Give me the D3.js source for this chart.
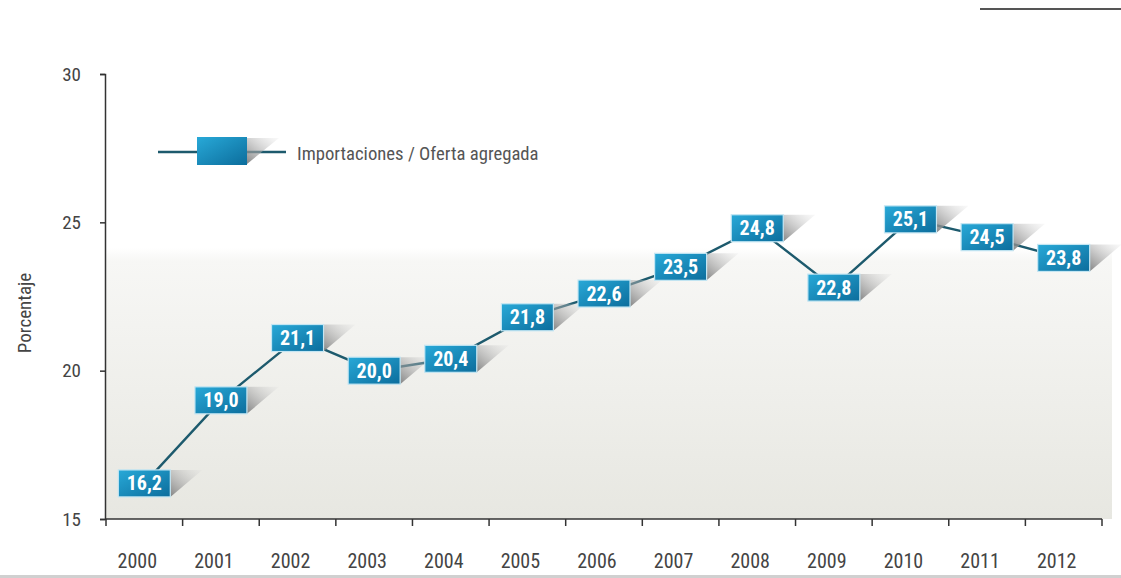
<!DOCTYPE html>
<html><head><meta charset="utf-8">
<script src="https://cdn.jsdelivr.net/npm/d3@7"></script>
<style>body{margin:0;background:#fff}svg{display:block}</style>
</head><body>
<svg id="c" width="1121" height="578"></svg>
<script>
const years = ["2000","2001","2002","2003","2004","2005","2006","2007","2008","2009","2010","2011","2012"];
const values = [16.2,19.0,21.1,20.0,20.4,21.8,22.6,23.5,24.8,22.8,25.1,24.5,23.8];
const yTicks = [15,20,25,30];
const seriesName = "Importaciones / Oferta agregada";
const yTitle = "Porcentaje";

const font = "'Roboto Condensed','Liberation Sans Narrow','Arial Narrow',sans-serif";
const svg = d3.select("#c");
const mLeft = 105, mRight = 1102, mTop = 74, mBottom = 519;
const x = d3.scaleBand().domain(years).range([106, mRight]);
const y = d3.scaleLinear().domain([15,30]).range([mBottom, mTop]);

const defs = svg.append("defs");
const bg = defs.append("linearGradient").attr("id","bg").attr("x1",0).attr("y1",0).attr("x2",0).attr("y2",1);
bg.append("stop").attr("offset","0%").attr("stop-color","#ffffff");
bg.append("stop").attr("offset","39%").attr("stop-color","#ffffff");
bg.append("stop").attr("offset","42%").attr("stop-color","#f7f7f5");
bg.append("stop").attr("offset","100%").attr("stop-color","#e7e7e1");
const bx = defs.append("linearGradient").attr("id","box").attr("x1",0).attr("y1",0).attr("x2",1).attr("y2",1);
bx.append("stop").attr("offset","0%").attr("stop-color","#28a9d8");
bx.append("stop").attr("offset","100%").attr("stop-color","#0c6d9c");
const sh = defs.append("linearGradient").attr("id","sh").attr("x1",0).attr("y1",1).attr("x2",1).attr("y2",0);
sh.append("stop").attr("offset","0%").attr("stop-color","#7d7d7d").attr("stop-opacity",0.95);
sh.append("stop").attr("offset","100%").attr("stop-color","#d8d8d8").attr("stop-opacity",0.15);

// plot background
svg.append("rect").attr("x",mLeft).attr("y",mTop).attr("width",1112-mLeft).attr("height",mBottom-mTop).attr("fill","url(#bg)");

// top-right rule and bottom strip
svg.append("line").attr("x1",980).attr("x2",1121).attr("y1",9).attr("y2",9).attr("stroke","#555").attr("stroke-width",2);
svg.append("rect").attr("x",0).attr("y",575).attr("width",1121).attr("height",3).attr("fill","#d0d0d0");

// y axis
const ya = svg.append("g").attr("transform",`translate(${mLeft},0)`)
  .call(d3.axisLeft(y).tickValues(yTicks).tickSize(5).tickPadding(19));
ya.select(".domain").attr("stroke","#333").attr("stroke-width",1.5);
ya.selectAll(".tick line").attr("stroke","#333").attr("stroke-width",1.5);
ya.selectAll("text").attr("font-family",font).attr("font-size",19).attr("fill","#444");

// x axis
const xa = svg.append("g").attr("transform",`translate(0,${mBottom})`);
xa.append("line").attr("x1",mLeft).attr("x2",mRight).attr("y1",0).attr("y2",0).attr("stroke","#333").attr("stroke-width",1.5);
const bounds = years.map(d=>x(d)).concat([mRight]);
xa.selectAll(".tk").data(bounds).join("line").attr("x1",d=>d).attr("x2",d=>d).attr("y1",0).attr("y2",7).attr("stroke","#333").attr("stroke-width",1.5);
xa.selectAll(".lb").data(years).join("text").attr("x",d=>x(d)+x.bandwidth()/2-7).attr("y",49)
  .attr("text-anchor","middle").attr("font-family",font).attr("font-size",20).attr("fill","#444").text(d=>d);

svg.append("text").attr("transform","translate(31,313) rotate(-90)").attr("text-anchor","middle")
  .attr("font-family",font).attr("font-size",19).attr("fill","#444").text(yTitle);

// line
const px = d => x(d) + x.bandwidth()/2;
const pts = years.map((d,i)=>[px(d), y(values[i])]);
svg.append("path").attr("d", d3.line()(pts)).attr("fill","none").attr("stroke","#1d5a6d").attr("stroke-width",2.4);

// labels
const bw = 52, bh = 27;
const g = svg.selectAll(".pt").data(years).join("g").attr("transform",(d,i)=>`translate(${px(d)},${y(values[i])})`);
g.append("path").attr("d",`M${bw/2},${-bh/2} L${bw/2+32},${-bh/2} L${bw/2},${bh/2} Z`).attr("fill","url(#sh)");
g.append("rect").attr("x",-bw/2).attr("y",-bh/2).attr("width",bw).attr("height",bh)
  .attr("fill","url(#box)").attr("stroke","#c4e6f3").attr("stroke-width",1.2);
g.append("text").attr("y",7).attr("text-anchor","middle").attr("font-family",font).attr("font-size",20)
  .attr("font-weight","bold").attr("fill","#fff").text((d,i)=>values[i].toFixed(1).replace(".",","));

// legend
const lg = svg.append("g");
lg.append("line").attr("x1",158).attr("x2",286).attr("y1",152).attr("y2",152).attr("stroke","#1d5a6d").attr("stroke-width",2.4);
lg.append("path").attr("d","M247,138 L279,138 L247,164 Z").attr("fill","url(#sh)");
lg.append("rect").attr("x",197).attr("y",137).attr("width",50).attr("height",28).attr("fill","url(#box)");
lg.append("text").attr("x",297).attr("y",160).attr("font-family",font).attr("font-size",18.7).attr("fill","#555").text(seriesName);
</script>
</body></html>
